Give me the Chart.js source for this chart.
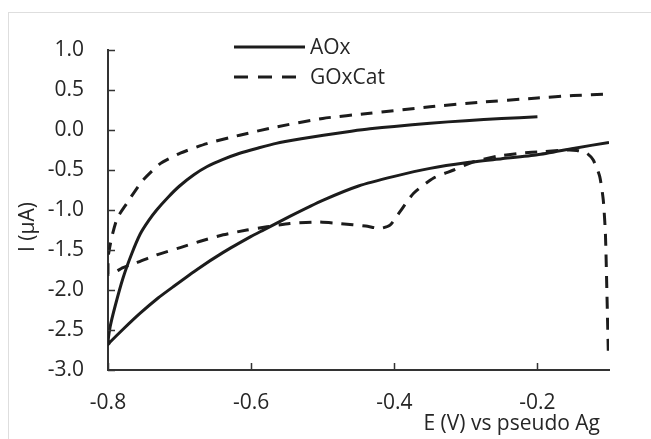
<!DOCTYPE html>
<html>
<head>
<meta charset="utf-8">
<script src="https://cdn.jsdelivr.net/npm/chart.js@4.4.1/dist/chart.umd.min.js"></script>
<style>
  html, body { margin: 0; padding: 0; background: #fff; }
  #wrap { width: 651px; height: 439px; position: relative; }
</style>
</head>
<body>
<div id="wrap"><canvas id="c" width="651" height="439"></canvas></div>
<script>
// ---- Data ----
const seriesNames = ["AOx", "GOxCat"];
const xTickValues = [-0.8, -0.6, -0.4, -0.2];
const yTickValues = [-3.0, -2.5, -2.0, -1.5, -1.0, -0.5, 0.0, 0.5, 1.0];
const xTitle = "E (V) vs pseudo Ag";
const yTitle = "I (µA)";

// AOx: upper (return) branch right->left, then lower branch left->right
const aoxE = [-0.2, -0.25, -0.3, -0.35, -0.4, -0.434, -0.46, -0.499, -0.53, -0.565, -0.59, -0.616, -0.64, -0.662, -0.68, -0.70, -0.716, -0.732, -0.743, -0.755, -0.767, -0.779, -0.79, -0.797, -0.8,
              -0.797, -0.78, -0.755, -0.73, -0.709, -0.675, -0.639, -0.6, -0.585, -0.546, -0.5, -0.45, -0.4, -0.35, -0.3, -0.25, -0.2, -0.15, -0.1];
const aoxI = [0.165, 0.143, 0.117, 0.085, 0.045, 0.015, -0.015, -0.065, -0.11, -0.167, -0.225, -0.29, -0.37, -0.46, -0.56, -0.70, -0.84, -1.0, -1.13, -1.30, -1.55, -1.85, -2.2, -2.46, -2.68,
              -2.65, -2.5, -2.29, -2.1, -1.96, -1.74, -1.53, -1.33, -1.26, -1.08, -0.88, -0.70, -0.58, -0.48, -0.41, -0.36, -0.31, -0.23, -0.155];

// GOxCat: right vertical drop, lower branch right->left, then upper branch left->right
const goxE = [-0.101, -0.103, -0.105, -0.108, -0.113, -0.122, -0.131, -0.145, -0.159, -0.192, -0.224, -0.257, -0.29, -0.317, -0.345, -0.373, -0.392, -0.406, -0.42, -0.44,
              -0.476, -0.508, -0.546, -0.578, -0.606, -0.639, -0.671, -0.699, -0.732, -0.76, -0.779, -0.793, -0.8,
              -0.8, -0.795, -0.787, -0.774, -0.762, -0.751, -0.727, -0.699, -0.662, -0.616, -0.564, -0.5, -0.434, -0.35, -0.283, -0.2, -0.15, -0.1];
const goxI = [-2.76, -2.0, -1.3, -0.875, -0.58, -0.375, -0.29, -0.255, -0.25, -0.27, -0.29, -0.33, -0.40, -0.5, -0.60, -0.79, -1.02, -1.19, -1.23, -1.2,
              -1.17, -1.15, -1.17, -1.21, -1.25, -1.31, -1.39, -1.47, -1.56, -1.66, -1.72, -1.79, -1.8,
              -1.6, -1.35, -1.1, -0.92, -0.76, -0.625, -0.42, -0.29, -0.17, -0.065, 0.04, 0.145, 0.21, 0.29, 0.345, 0.40, 0.43, 0.45];

const toPts = (xs, ys) => xs.map((x, i) => ({ x: x, y: ys[i] }));

const FONT = '"Open Sans", "DejaVu Sans", sans-serif';
const FS = 21;
const TXT = '#262626';
const INK = '#1c1c1c';
const dashPattern = [12, 9];

const decor = {
  id: 'decor',
  beforeDraw(chart) {
    const ctx = chart.ctx;
    ctx.save();
    ctx.strokeStyle = '#dedede';
    ctx.lineWidth = 1;
    ctx.strokeRect(8.5, 12.5, 700, 500);
    ctx.restore();
  },
  afterDraw(chart) {
    const ctx = chart.ctx;
    const xs = chart.scales.x, ys = chart.scales.y;
    ctx.save();
    // inside tick marks
    ctx.strokeStyle = '#333';
    ctx.lineWidth = 1.5;
    ctx.beginPath();
    yTickValues.forEach(v => {
      const py = Math.round(ys.getPixelForValue(v)) + 0.5;
      ctx.moveTo(xs.left, py); ctx.lineTo(xs.left + 7, py);
    });
    xTickValues.forEach(v => {
      const px = Math.round(xs.getPixelForValue(v)) + 0.5;
      ctx.moveTo(px, ys.bottom); ctx.lineTo(px, ys.bottom - 7);
    });
    ctx.stroke();

    // axis titles
    ctx.fillStyle = TXT;
    ctx.font = FS + 'px ' + FONT;
    ctx.textAlign = 'right';
    ctx.textBaseline = 'middle';
    ctx.fillText(xTitle, 600, 424);
    ctx.save();
    ctx.translate(28, 227);
    ctx.rotate(-Math.PI / 2);
    ctx.textAlign = 'center';
    ctx.fillText(yTitle, 0, 0);
    ctx.restore();

    // legend
    const rows = [{ y: 47, dash: [], x2: 305 }, { y: 77, dash: [14, 10], x2: 300 }];
    rows.forEach((r, i) => {
      ctx.strokeStyle = INK;
      ctx.lineWidth = 3;
      ctx.setLineDash(r.dash);
      ctx.beginPath();
      ctx.moveTo(234, r.y); ctx.lineTo(r.x2, r.y);
      ctx.stroke();
      ctx.setLineDash([]);
      ctx.textAlign = 'left';
      ctx.fillText(seriesNames[i], 310, r.y + 1);
    });
    ctx.restore();
  }
};

new Chart(document.getElementById('c'), {
  type: 'scatter',
  data: {
    datasets: [
      { label: seriesNames[0], data: toPts(aoxE, aoxI), showLine: true, borderColor: INK, borderWidth: 3,
        pointRadius: 0, tension: 0.2, fill: false },
      { label: seriesNames[1], data: toPts(goxE, goxI), showLine: true, borderColor: INK, borderWidth: 3,
        borderDash: dashPattern, pointRadius: 0, tension: 0.2, fill: false }
    ]
  },
  options: {
    responsive: false,
    animation: false,
    layout: { padding: { left: 0, right: 42, top: 50, bottom: 0 } },
    plugins: { legend: { display: false }, tooltip: { enabled: false } },
    scales: {
      x: {
        type: 'linear', min: -0.8, max: -0.1,
        afterBuildTicks: s => { s.ticks = xTickValues.map(v => ({ value: v })); },
        afterFit: s => { s.height = 69; },
        grid: { display: false, drawTicks: false },
        border: { display: true, color: '#333', width: 2 },
        ticks: { padding: 20, color: TXT, font: { family: FONT, size: FS },
                 callback: v => v.toFixed(1) }
      },
      y: {
        type: 'linear', min: -3, max: 1,
        afterBuildTicks: s => { s.ticks = yTickValues.map(v => ({ value: v })); },
        afterFit: s => { s.width = 108; },
        grid: { display: false, drawTicks: false },
        border: { display: true, color: '#333', width: 2 },
        ticks: { padding: 24, color: TXT, font: { family: FONT, size: FS },
                 callback: v => v.toFixed(1) }
      }
    }
  },
  plugins: [decor]
});
</script>
</body>
</html>
